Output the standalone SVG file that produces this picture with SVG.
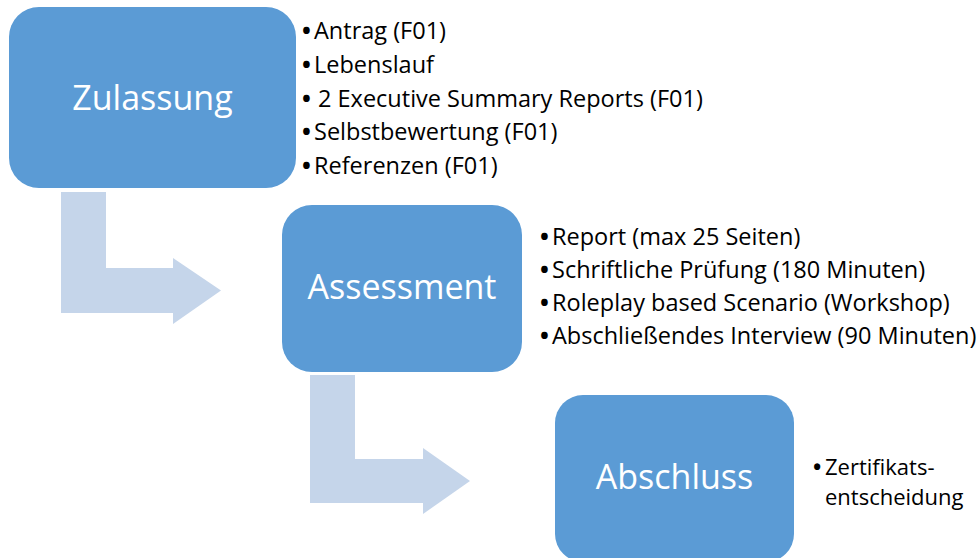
<svg xmlns="http://www.w3.org/2000/svg" width="980" height="558" viewBox="0 0 980 558">
<style>
.box{fill:#5B9BD5}
.arrow{fill:#C5D5EA}
.title{font-family:"Open Sans","Liberation Sans",sans-serif;font-size:34px;fill:#FFFFFF;text-anchor:middle}
.item{font-family:"Open Sans","Liberation Sans",sans-serif;font-size:23.5px;fill:#000000}
.item2{font-family:"Open Sans","Liberation Sans",sans-serif;font-size:22px;fill:#000000}
.bul{font-weight:bold}
</style>
<rect width="980" height="558" fill="#FFFFFF"/>
<g id="connectors">
<path class="arrow" d="M61,192 H106 V268 H173 V258 L221,290.5 L173,324 V313 H61 Z"/>
<path class="arrow" d="M310,375 H355 V459 H423 V448 L470,481 L423,514 V503 H310 Z"/>
</g>
<g id="zulassung">
<rect class="box" x="9" y="7" width="287" height="181" rx="30" ry="30"/>
<text class="title" x="152.5" y="110">Zulassung</text>
<text class="item" x="302" y="39"><tspan class="bul">•</tspan><tspan x="314">Antrag (F01)</tspan></text>
<text class="item" x="302" y="73"><tspan class="bul">•</tspan><tspan x="314">Lebenslauf</tspan></text>
<text class="item" x="302" y="107"><tspan class="bul">•</tspan><tspan x="318">2 Executive Summary Reports (F01)</tspan></text>
<text class="item" x="302" y="140"><tspan class="bul">•</tspan><tspan x="314">Selbstbewertung (F01)</tspan></text>
<text class="item" x="302" y="174"><tspan class="bul">•</tspan><tspan x="314">Referenzen (F01)</tspan></text>
</g>
<g id="assessment">
<rect class="box" x="282" y="205" width="240" height="167" rx="30" ry="30"/>
<text class="title" x="402" y="299">Assessment</text>
<text class="item" x="540" y="245"><tspan class="bul">•</tspan><tspan x="552">Report (max 25 Seiten)</tspan></text>
<text class="item" x="540" y="278"><tspan class="bul">•</tspan><tspan x="552">Schriftliche Prüfung (180 Minuten)</tspan></text>
<text class="item" x="540" y="311"><tspan class="bul">•</tspan><tspan x="552">Roleplay based Scenario (Workshop)</tspan></text>
<text class="item" x="540" y="344"><tspan class="bul">•</tspan><tspan x="552">Abschließendes Interview (90 Minuten)</tspan></text>
</g>
<g id="abschluss">
<rect class="box" x="555" y="395" width="239" height="167" rx="28" ry="28"/>
<text class="title" x="674.5" y="489">Abschluss</text>
<text class="item2" x="813" y="475"><tspan class="bul">•</tspan><tspan x="825">Zertifikats-</tspan></text>
<text class="item2" x="825" y="505">entscheidung</text>
</g>
</svg>
